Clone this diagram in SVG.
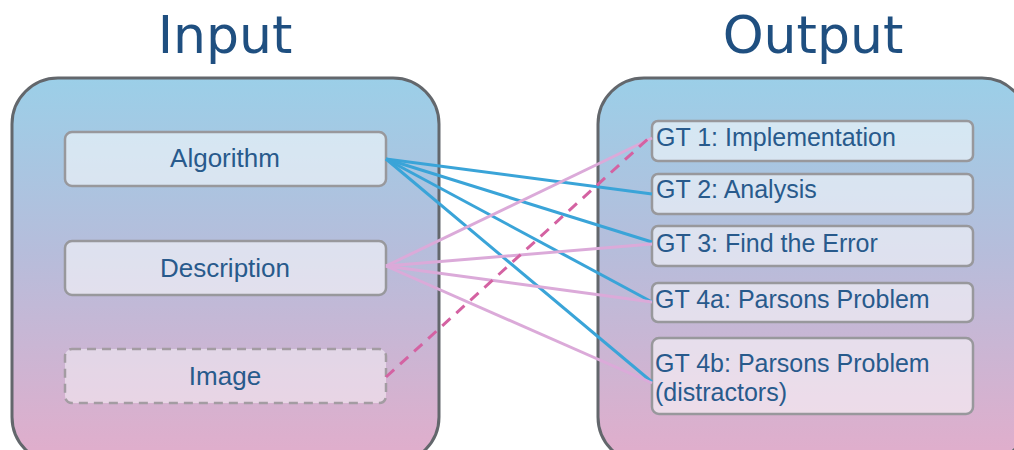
<svg xmlns="http://www.w3.org/2000/svg" width="1014" height="450" viewBox="0 0 1014 450">
  <defs>
    <linearGradient id="panelFill" x1="0" y1="0" x2="0" y2="1">
      <stop offset="0" stop-color="#9bcfe8"/>
      <stop offset="0.45" stop-color="#b6bddb"/>
      <stop offset="1" stop-color="#e2adcb"/>
    </linearGradient>
    <style>
      .panel { fill: url(#panelFill); stroke: #63676c; stroke-width: 3; }
      .title { font-family: "DejaVu Sans", "Liberation Sans", sans-serif; font-size: 52px; fill: #1f4f80; text-anchor: middle; }
      .box { fill: #ffffff; fill-opacity: 0.55; stroke: #98989c; stroke-width: 2.5; }
      .box-dashed { fill: #ffffff; fill-opacity: 0.45; stroke: #a39ca2; stroke-width: 2.5; stroke-dasharray: 9 6; }
      .in-label { font-family: "Liberation Sans", Arial, sans-serif; font-size: 26px; fill: #285a8c; text-anchor: middle; }
      .out-label { font-family: "Liberation Sans", Arial, sans-serif; font-size: 25px; fill: #285a8c; }
      .alg { stroke: #3aa4d8; stroke-width: 3; fill: none; }
      .desc { stroke: #dbaad9; stroke-width: 3; fill: none; }
      .img { stroke: #d462a2; stroke-width: 3; fill: none; stroke-dasharray: 11 8; }
    </style>
  </defs>

  <!-- Column headings -->
  <text class="title" x="225" y="53">Input</text>
  <text class="title" x="813" y="53">Output</text>

  <!-- Containers -->
  <rect class="panel" x="12" y="78" width="427" height="385" rx="46"/>
  <rect class="panel" x="598" y="78" width="430" height="385" rx="46"/>

  <!-- Input nodes -->
  <g id="algorithm">
    <rect class="box" x="65" y="132" width="321" height="54" rx="7"/>
    <text class="in-label" x="225" y="167">Algorithm</text>
  </g>
  <g id="description">
    <rect class="box" x="65" y="241" width="321" height="54" rx="7"/>
    <text class="in-label" x="225" y="277">Description</text>
  </g>
  <g id="image">
    <rect class="box-dashed" x="65" y="349" width="321" height="54" rx="7"/>
    <text class="in-label" x="225" y="385">Image</text>
  </g>

  <!-- Output nodes -->
  <g id="gt1">
    <rect class="box" x="652" y="121" width="321" height="40" rx="6"/>
    <text class="out-label" x="656" y="146">GT 1: Implementation</text>
  </g>
  <g id="gt2">
    <rect class="box" x="652" y="174" width="321" height="40" rx="6"/>
    <text class="out-label" x="656" y="198">GT 2: Analysis</text>
  </g>
  <g id="gt3">
    <rect class="box" x="652" y="226" width="321" height="40" rx="6"/>
    <text class="out-label" x="656" y="252">GT 3: Find the Error</text>
  </g>
  <g id="gt4a">
    <rect class="box" x="652" y="283" width="321" height="39" rx="6"/>
    <text class="out-label" x="655" y="308">GT 4a: Parsons Problem</text>
  </g>
  <g id="gt4b">
    <rect class="box" x="652" y="338" width="321" height="76" rx="7"/>
    <text class="out-label" x="655" y="372">GT 4b: Parsons Problem</text>
    <text class="out-label" x="655" y="401">(distractors)</text>
  </g>

  <!-- Connectors -->
  <g id="connectors">
    <line class="alg" x1="386" y1="159" x2="652" y2="194"/>
    <line class="alg" x1="386" y1="159" x2="652" y2="242"/>
    <line class="alg" x1="386" y1="159" x2="652" y2="302"/>
    <line class="alg" x1="386" y1="159" x2="652" y2="382"/>
    <line class="desc" x1="386" y1="266" x2="652" y2="138"/>
    <line class="desc" x1="386" y1="266" x2="652" y2="244"/>
    <line class="desc" x1="386" y1="266" x2="652" y2="302"/>
    <line class="desc" x1="386" y1="266" x2="652" y2="383"/>
    <line class="img" x1="386" y1="377" x2="650" y2="137"/>
  </g>
</svg>
